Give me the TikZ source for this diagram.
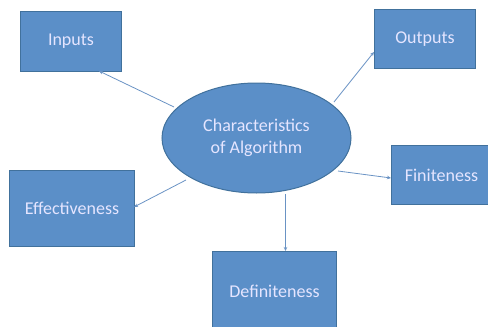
\documentclass[tikz,border=0pt]{standalone}
\usepackage{fontspec}
\setmainfont{Carlito}
\usetikzlibrary{arrows.meta,shapes.geometric}
\definecolor{boxfill}{HTML}{5B8FC8}
\definecolor{boxline}{HTML}{41719C}
\definecolor{arrowc}{HTML}{6A93C4}
\tikzset{
  lbl/.style={text=white!90!blue, font=\fontsize{18}{22}\selectfont},
  box/.style={draw=boxline, line width=1pt, fill=boxfill, lbl, anchor=north west, inner sep=0pt},
  conn/.style={draw=arrowc, line width=0.8pt, -{Stealth[length=4pt,width=3.5pt]}}
}
\begin{document}
\begin{tikzpicture}[x=1pt,y=-1pt]
\useasboundingbox (0,0) rectangle (488,327);
\node[box, minimum width=101pt, minimum height=60pt] (inputs) at (20,11) {Inputs};
\node[box, minimum width=101pt, minimum height=59pt] (outputs) at (374,9) {Outputs};
\node[box, minimum width=100pt, minimum height=59pt] (finite) at (391,145) {Finiteness};
\node[box, minimum width=125pt, minimum height=76pt] (effect) at (9,170) {Effectiveness};
\node[box, minimum width=124pt, minimum height=80pt] (defin) at (212,251) {Definiteness};
\node[draw=boxline, line width=1pt, fill=boxfill, ellipse, minimum width=189pt, minimum height=110pt, inner sep=0pt, lbl, align=center] (core) at (256.5,138) {Characteristics\\of Algorithm};
\coordinate (iS) at (174,107);
\coordinate (iE) at (99,71);
\coordinate (oS) at (334,102);
\coordinate (oE) at (374,52);
\coordinate (fS) at (338,171);
\coordinate (fE) at (391,178);
\coordinate (eS) at (186,180);
\coordinate (eE) at (134,207);
\coordinate (dS) at (285.5,194);
\coordinate (dE) at (285.5,251);
\draw[conn] (iS) -- (iE);
\draw[conn] (oS) -- (oE);
\draw[conn] (fS) -- (fE);
\draw[conn] (eS) -- (eE);
\draw[conn] (dS) -- (dE);
\end{tikzpicture}
\end{document}
